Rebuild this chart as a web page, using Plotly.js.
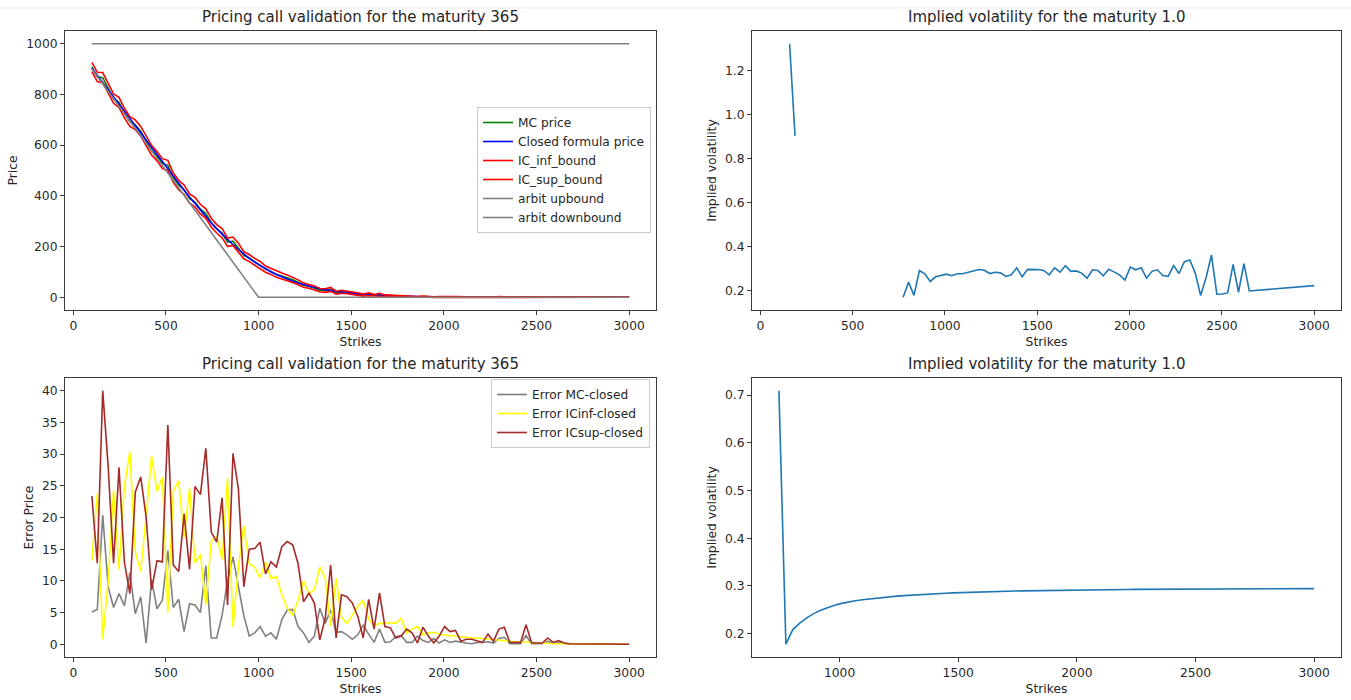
<!DOCTYPE html>
<html>
<head>
<meta charset="utf-8">
<script src="https://cdn.plot.ly/plotly-3.0.1.min.js"></script>
<style>
html,body{margin:0;padding:0;background:#fff;}
#chart{width:1351px;height:700px;}
</style>
</head>
<body>
<div id="chart"></div>
<script>
// ---------- data ----------
const strikes = [100.00,129.29,158.59,187.88,217.17,246.46,275.76,305.05,334.34,363.64,
392.93,422.22,451.52,480.81,510.10,539.39,568.69,597.98,627.27,656.57,
685.86,715.15,744.44,773.74,803.03,832.32,861.62,890.91,920.20,949.49,
978.79,1008.08,1037.37,1066.67,1095.96,1125.25,1154.55,1183.84,1213.13,1242.42,
1271.72,1301.01,1330.30,1359.60,1388.89,1418.18,1447.47,1476.77,1506.06,1535.35,
1564.65,1593.94,1623.23,1652.53,1681.82,1711.11,1740.40,1769.70,1798.99,1828.28,
1857.58,1886.87,1916.16,1945.45,1974.75,2004.04,2033.33,2062.63,2091.92,2121.21,
2150.51,2179.80,2209.09,2238.38,2267.68,2296.97,2326.26,2355.56,2384.85,2414.14,
2443.43,2472.73,2502.02,2531.31,2560.61,2589.90,2619.19,2648.48,2677.78,2707.07,
2736.36,2765.66,2794.95,2824.24,2853.54,2882.83,2912.12,2941.41,2970.71,3000.00];

const closedPrice = [903.0,874.5,846.1,817.7,789.2,760.8,732.4,703.9,675.6,647.2,
618.7,590.4,562.1,533.7,505.5,477.6,449.7,422.2,395.5,369.0,
343.1,317.9,293.6,270.7,248.3,227.3,207.4,188.5,170.5,153.6,
138.5,125.1,112.0,100.7,89.8,80.1,71.6,63.4,56.2,49.7,
43.8,38.6,34.2,29.9,26.4,23.1,20.3,17.9,15.7,13.6,
11.8,10.3,8.9,7.8,6.7,5.8,5.0,4.3,3.9,3.3,
2.9,2.5,2.1,1.8,1.6,1.5,1.3,1.1,0.95,0.82,
0.71,0.61,0.53,0.46,0.40,0.34,0.30,0.26,0.22,0.19,
0.16,0.14,0.12,0.10,0.09,0.08,0.07,0.06,0.05,0.04,
0.04,0.03,0.03,0.02,0.02,0.02,0.02,0.01,0.01,0.01];

const mcPrice = [908.1,869.0,866.1,826.8,783.5,768.9,726.3,692.7,680.3,654.7,
619.0,579.9,556.7,527.0,520.3,471.8,442.6,424.1,389.1,375.1,
347.8,330.3,294.3,270.2,253.2,217.3,221.1,194.6,165.7,154.8,
140.0,127.9,111.1,102.0,90.6,83.9,76.9,69.0,59.1,48.1,
43.8,37.6,28.5,26.8,31.2,18.4,22.1,20.0,16.7,12.8,
8.8,11.9,8.7,10.2,6.5,5.4,3.9,2.9,4.2,3.0,
1.6,3.1,1.9,1.0,1.5,2.2,1.6,1.6,0.7,0.7,
0.6,0.4,0.2,0.9,0.3,1.2,1.4,0.2,0.2,0.2,
1.6,0.1,0.1,0.1,0.5,0.1,0.3,0.1,0,0,
0,0,0,0,0,0,0,0,0,0];

const icInfBound = [889.8,850.7,846.1,807.8,764.9,749.0,707.3,673.5,661.0,635.7,
599.2,560.7,538.0,507.3,500.5,453.5,423.9,405.3,370.9,356.2,
328.9,311.7,277.3,253.6,234.9,201.1,204.7,176.2,151.8,140.9,
126.3,114.6,99.0,90.3,79.1,72.3,65.9,58.8,49.2,39.7,
35.8,30.0,22.0,19.5,23.5,12.7,16.0,14.6,11.1,7.6,
4.9,6.3,6.0,4.5,3.4,2.4,1.7,0.2,2.1,0.9,
0.1,1.0,0.3,-0.1,0.0,0.0,-0.1,-0.2,-0.2,-0.3,
-0.3,-0.4,-0.4,-0.3,-0.4,-0.4,-0.3,-0.2,-0.2,-0.2,
-0.1,-0.1,-0.1,-0.1,0.0,-0.1,0.0,0.0,0,0,
0,0,0,0,0,0,0,0,0,0];

const icSupBound = [926.4,887.3,886.1,845.8,802.0,788.7,745.3,711.9,699.6,673.6,
638.8,599.0,575.3,546.7,540.1,490.1,461.2,442.8,407.3,393.9,
366.7,348.8,311.3,286.8,271.4,233.5,237.5,213.0,179.6,168.6,
153.6,141.2,123.1,113.7,102.0,95.5,87.8,79.1,68.9,56.4,
51.8,45.1,34.9,34.0,38.9,24.1,28.1,25.4,22.2,18.0,
12.8,17.4,11.3,15.9,9.5,8.4,6.0,5.6,6.3,5.1,
3.1,5.2,3.4,2.0,2.9,4.3,3.3,3.3,1.5,1.6,
1.5,1.1,0.8,2.1,0.9,2.7,3.0,0.6,0.6,0.5,
3.3,0.4,0.3,0.3,1.1,0.3,0.6,0.2,0,0,
0,0,0,0,0,0,0,0,0,0];

const arbitStrikes = [100, 1000, 3000];
const arbitUpbound = [1000, 1000, 1000];
const arbitDownbound = [900, 0, 0];

const errMC = [5.1,5.5,20.4,9.1,5.8,8.0,6.1,11.3,4.8,7.5,
0.2,10.2,5.6,7.0,14.8,5.8,7.1,2.0,6.4,6.2,
5.0,12.4,1.0,1.0,4.6,10.0,13.8,9.1,4.5,1.3,
1.8,2.8,1.3,1.8,0.8,3.9,5.4,5.5,2.8,1.8,
0.3,1.3,5.7,3.3,5.4,1.9,2.0,1.5,0.8,1.5,
3.0,1.6,0.3,2.4,0.3,0.4,1.2,1.4,0.3,0.3,
1.3,0.6,0.3,0.9,0.2,0.7,0.3,0.5,0.3,0.2,
0.1,0.3,0.3,0.4,0.2,0.9,1.1,0.1,0.1,0.1,
1.4,0.1,0.1,0.1,0.5,0.1,0.3,0.1,0,0,
0,0,0,0,0,0,0,0,0,0];

const errICinf = [13.2,23.8,0.8,9.9,24.3,11.8,25.0,30.4,14.6,11.5,
20.1,29.7,24.1,26.4,5.0,24.1,25.8,16.9,24.6,12.8,
14.2,6.2,16.3,17.1,13.4,26.2,2.7,12.3,18.7,12.7,
12.2,10.5,13.0,10.4,10.7,7.8,5.7,4.6,7.0,10.0,
8.0,8.6,12.2,10.4,2.9,10.4,4.3,3.3,4.6,6.0,
6.9,4.0,2.9,3.3,3.3,3.4,3.3,4.1,1.8,2.4,
2.8,1.5,1.8,1.9,1.6,1.5,1.4,1.3,1.1,1.1,
1.0,1.0,0.9,0.8,0.8,0.7,0.6,0.5,0.4,0.4,
0.3,0.2,0.2,0.2,0.1,0.1,0.1,0.1,0.1,0.1,
0.05,0.05,0,0,0,0,0,0,0,0];

const errICsup = [23.4,12.8,40.0,28.1,12.8,27.9,12.9,8.0,24.0,26.4,
20.1,8.6,13.2,13.0,34.6,12.5,11.5,20.6,11.8,24.9,
23.6,30.9,17.7,16.1,23.1,6.2,30.1,24.5,9.1,15.0,
15.1,16.1,11.1,13.0,12.2,15.4,16.2,15.7,12.7,6.7,
8.1,6.5,0.7,4.1,12.5,1.0,7.8,7.5,6.5,4.4,
1.0,7.1,2.4,8.1,2.8,2.6,1.0,1.3,2.4,1.8,
0.2,2.7,1.3,0.2,1.3,2.8,2.0,2.2,0.5,0.8,
0.8,0.5,0.3,1.6,0.5,2.4,2.7,0.3,0.3,0.3,
3.1,0.3,0.2,0.2,1.0,0.3,0.6,0.2,0.1,0.1,
0,0,0,0,0,0,0,0,0,0];

// implied volatility from MC prices (gaps where no volatility was found)
const volTopKs = [strikes[2], strikes[3], null].concat(strikes.slice(23, 88), [strikes[99]]);
const volTop = [1.322, 0.904, null,
0.170,0.239,0.179,0.292,0.277,0.242,0.263,0.269,0.275,0.268,
0.277,0.277,0.284,0.292,0.296,0.293,0.278,0.284,0.281,0.265,
0.272,0.304,0.263,0.297,0.298,0.296,0.292,0.272,0.304,0.284,
0.314,0.288,0.290,0.280,0.257,0.295,0.292,0.268,0.298,0.286,
0.272,0.248,0.307,0.295,0.304,0.257,0.288,0.295,0.269,0.265,
0.314,0.278,0.332,0.340,0.280,0.178,0.259,0.362,0.184,0.185,
0.190,0.320,0.193,0.323,0.199,
0.223];

// implied volatility from closed formula prices
const volBottomKs = strikes.slice(22);
const volBottom = [0.7090,0.1780,0.2085,0.2220,0.2330,0.2420,0.2490,0.2548,0.2595,0.2634,
0.2665,0.2690,0.2710,0.2728,0.2744,0.2759,0.2773,0.2786,0.2797,0.2808,
0.2818,0.2826,0.2834,0.2842,0.2848,0.2855,0.2861,0.2866,0.2871,0.2875,
0.2880,0.2884,0.2887,0.2891,0.2894,0.2897,0.2900,0.2903,0.2905,0.2907,
0.2910,0.2912,0.2914,0.2916,0.2917,0.2919,0.2920,0.2922,0.2923,0.2925,
0.2926,0.2927,0.2928,0.2929,0.2930,0.2931,0.2932,0.2933,0.2934,0.2934,
0.2935,0.2936,0.2937,0.2937,0.2938,0.2938,0.2939,0.2940,0.2940,0.2941,
0.2941,0.2941,0.2942,0.2942,0.2943,0.2943,0.2944,0.2944];

// ---------- chart ----------
const FONT = 'DejaVu Sans, sans-serif';
const LW = 1.6;
function line(x, y, name, color, xa, ya, legend, show) {
  return {x: x, y: y, name: name, type: 'scatter', mode: 'lines',
    line: {color: color, width: LW}, xaxis: xa, yaxis: ya,
    legend: legend, showlegend: show, hoverinfo: 'x+y'};
}
const traces = [
  line(strikes, mcPrice, 'MC price', '#008000', 'x', 'y', 'legend', true),
  line(strikes, closedPrice, 'Closed formula price', '#0000ff', 'x', 'y', 'legend', true),
  line(strikes, icInfBound, 'IC_inf_bound', '#ff0000', 'x', 'y', 'legend', true),
  line(strikes, icSupBound, 'IC_sup_bound', '#ff0000', 'x', 'y', 'legend', true),
  line(arbitStrikes, arbitUpbound, 'arbit upbound', '#808080', 'x', 'y', 'legend', true),
  line(arbitStrikes, arbitDownbound, 'arbit downbound', '#808080', 'x', 'y', 'legend', true),
  line(volTopKs, volTop, 'Implied volatility', '#1f77b4', 'x2', 'y2', 'legend', false),
  line(strikes, errMC, 'Error MC-closed', '#808080', 'x3', 'y3', 'legend2', true),
  line(strikes, errICinf, 'Error ICinf-closed', '#ffff00', 'x3', 'y3', 'legend2', true),
  line(strikes, errICsup, 'Error ICsup-closed', '#a52a2a', 'x3', 'y3', 'legend2', true),
  line(volBottomKs, volBottom, 'Implied volatility (closed)', '#1f77b4', 'x4', 'y4', 'legend', false)
];

const W = 1351, H = 700;
const px = v => v / W, py = v => 1 - v / H;
const FS = 12.3;
const tickFont = {family: FONT, size: FS, color: '#262626'};
const titleFont = {family: FONT, size: FS, color: '#262626'};
function xax(dom, range, anchor, ticks) {
  return {domain: [px(dom[0]), px(dom[1])], range: range, anchor: anchor,
    showgrid: false, zeroline: false, showline: true, mirror: true,
    linecolor: '#3a3a3a', linewidth: 1, ticks: 'outside', ticklen: 4, tickwidth: 1,
    tickcolor: '#3a3a3a', tickfont: tickFont, tickvals: ticks, automargin: false,
    title: {text: 'Strikes', font: titleFont, standoff: 5}};
}
function yax(dom, range, anchor, ticks, title, fmt) {
  return {domain: [py(dom[1]), py(dom[0])], range: range, anchor: anchor,
    showgrid: false, zeroline: false, showline: true, mirror: true,
    linecolor: '#3a3a3a', linewidth: 1, ticks: 'outside', ticklen: 4, tickwidth: 1,
    tickcolor: '#3a3a3a', tickfont: tickFont, tickvals: ticks, tickformat: fmt,
    automargin: false, title: {text: title, font: titleFont, standoff: 5}};
}
const L1 = [65, 656], L2 = [752, 1341], T1 = [31, 310], T2 = [378, 657];
function ann(text, x, y) {
  return {text: text, x: x, y: y, xref: 'paper', yref: 'paper', showarrow: false,
    xanchor: 'center', yanchor: 'middle', font: {family: FONT, size: 15, color: '#262626'}};
}
const legFont = {family: FONT, size: 12.2, color: '#262626'};
const layout = {
  width: W, height: H,
  margin: {l: 0, r: 0, t: 0, b: 0},
  paper_bgcolor: '#ffffff', plot_bgcolor: '#ffffff',
  font: {family: FONT, color: '#262626'},
  xaxis: xax(L1, [-45, 3145], 'y', [0, 500, 1000, 1500, 2000, 2500, 3000]),
  yaxis: yax(T1, [-50, 1050], 'x', [0, 200, 400, 600, 800, 1000], 'Price'),
  xaxis2: xax(L2, [-45, 3145], 'y2', [0, 500, 1000, 1500, 2000, 2500, 3000]),
  yaxis2: yax(T1, [0.1124, 1.3796], 'x2', [0.2, 0.4, 0.6, 0.8, 1.0, 1.2], 'Implied volatility', '.1f'),
  xaxis3: xax(L1, [-45, 3145], 'y3', [0, 500, 1000, 1500, 2000, 2500, 3000]),
  yaxis3: yax(T2, [-2, 42], 'x3', [0, 5, 10, 15, 20, 25, 30, 35, 40], 'Error Price'),
  xaxis4: xax(L2, [631, 3113], 'y4', [1000, 1500, 2000, 2500, 3000]),
  yaxis4: yax(T2, [0.151, 0.736], 'x4', [0.2, 0.3, 0.4, 0.5, 0.6, 0.7], 'Implied volatility', '.1f'),
  legend: {x: px(651), y: py(107), xanchor: 'right', yanchor: 'top',
    bgcolor: 'rgba(255,255,255,0.8)', bordercolor: '#cccccc', borderwidth: 1,
    font: legFont, itemwidth: 30},
  legend2: {x: px(650), y: py(379), xanchor: 'right', yanchor: 'top',
    bgcolor: 'rgba(255,255,255,0.8)', bordercolor: '#cccccc', borderwidth: 1,
    font: legFont, itemwidth: 30},
  annotations: [
    ann('Pricing call validation for the maturity 365', px((L1[0] + L1[1]) / 2), py(17)),
    ann('Implied volatility for the maturity 1.0', px((L2[0] + L2[1]) / 2), py(17)),
    ann('Pricing call validation for the maturity 365', px((L1[0] + L1[1]) / 2), py(364)),
    ann('Implied volatility for the maturity 1.0', px((L2[0] + L2[1]) / 2), py(364))
  ],
  shapes: [{type: 'line', xref: 'paper', yref: 'paper', x0: 0, x1: 1, y0: py(8), y1: py(8),
    line: {color: '#ededed', width: 1}}],
  showlegend: true
};
Plotly.newPlot('chart', traces, layout, {displayModeBar: false, staticPlot: true});
</script>
</body>
</html>
